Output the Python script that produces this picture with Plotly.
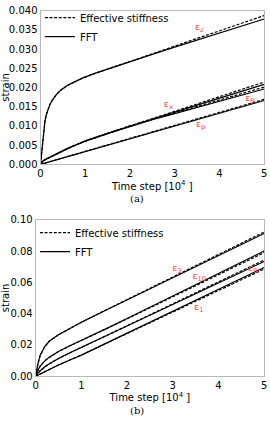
import plotly.graph_objects as go

# ---------------- data: panel (a) ----------------
t_z = [0, 0.01, 0.02, 0.035, 0.05, 0.075, 0.1, 0.13, 0.165, 0.21, 0.27, 0.35, 0.45, 0.6, 0.75, 0.95, 1.2, 1.5, 1.8, 2.2, 2.5, 3, 3.5, 4, 4.5, 5]
ez_fft = [0, 0.0013, 0.0025, 0.0048, 0.007, 0.0093, 0.0113, 0.0129, 0.0143, 0.0156, 0.0168, 0.0181, 0.0193, 0.0205, 0.0214, 0.0225, 0.0236, 0.0248, 0.026, 0.0275, 0.0286, 0.0305, 0.0323, 0.0341, 0.036, 0.0378]
ez_eff = [0, 0.0013, 0.0025, 0.0048, 0.007, 0.0093, 0.0113, 0.0129, 0.0143, 0.0156, 0.0168, 0.0181, 0.0193, 0.0205, 0.0214, 0.0225, 0.0236, 0.0248, 0.026, 0.0275, 0.0287, 0.0308, 0.0327, 0.0347, 0.0367, 0.0387]

t_x = [0, 0.02, 0.05, 0.1, 0.15, 0.2, 0.3, 0.45, 0.6, 0.8, 1, 1.5, 2, 2.5, 3, 3.5, 4, 4.5, 5]
ex_fft = [0, 0.0004, 0.0008, 0.0012, 0.0015, 0.0018, 0.0024, 0.0033, 0.0041, 0.0051, 0.0061, 0.0081, 0.0100, 0.0118, 0.0136, 0.0154, 0.0172, 0.0190, 0.0208]
ex_eff = [0, 0.0004, 0.0008, 0.0012, 0.0015, 0.0018, 0.0024, 0.0033, 0.0041, 0.0051, 0.0061, 0.0081, 0.0101, 0.0119, 0.0138, 0.0157, 0.0176, 0.0195, 0.0214]
eth_fft = [0, 0.0004, 0.0008, 0.0012, 0.0015, 0.0018, 0.0024, 0.0033, 0.0041, 0.0051, 0.0060, 0.0080, 0.0099, 0.0116, 0.0132, 0.0148, 0.0164, 0.0180, 0.0196]
eth_eff = [0, 0.0004, 0.0008, 0.0012, 0.0015, 0.0018, 0.0024, 0.0033, 0.0041, 0.0051, 0.0060, 0.0080, 0.0100, 0.0117, 0.0134, 0.0151, 0.0168, 0.0185, 0.0201]

t_p = [0, 1, 2, 3, 4, 5]
ep_fft = [0, 0.0033, 0.0066, 0.0099, 0.0132, 0.0166]
ep_eff = [0, 0.0034, 0.0068, 0.0101, 0.0135, 0.0169]

labels_a = ["ε<sub>z</sub>", "ε<sub>x</sub>", "ε<sub>θ</sub>", "ε<sub>p</sub>"]
labels_a_t = [3.55, 2.86, 4.68, 3.58]
labels_a_s = [0.0356, 0.0156, 0.0172, 0.0104]

# ---------------- data: panel (b) ----------------
t_b = [0, 0.02, 0.05, 0.1, 0.15, 0.2, 0.3, 0.4, 0.5, 0.75, 1, 1.5, 2, 2.5, 3, 3.5, 4, 4.5, 5]
e3_fft = [0, 0.0035, 0.008, 0.0135, 0.0167, 0.019, 0.0225, 0.0248, 0.0265, 0.0305, 0.0345, 0.0417, 0.0488, 0.0559, 0.0630, 0.0700, 0.0771, 0.0841, 0.0912]
e3_eff = [0, 0.0035, 0.008, 0.0135, 0.0167, 0.019, 0.0225, 0.0248, 0.0265, 0.0305, 0.0345, 0.0418, 0.0490, 0.0562, 0.0634, 0.0706, 0.0778, 0.0850, 0.0922]
e10_fft = [0, 0.002, 0.004, 0.0065, 0.0083, 0.0098, 0.0122, 0.0142, 0.0158, 0.0195, 0.0228, 0.0298, 0.0369, 0.0440, 0.0512, 0.0584, 0.0656, 0.0728, 0.0800]
e10_eff = [0, 0.002, 0.004, 0.0065, 0.0083, 0.0098, 0.0122, 0.0142, 0.0158, 0.0195, 0.0228, 0.0297, 0.0367, 0.0437, 0.0508, 0.0578, 0.0649, 0.0719, 0.0790]
e9_fft = [0, 0.001, 0.002, 0.0035, 0.0048, 0.006, 0.008, 0.0097, 0.0113, 0.015, 0.0183, 0.0252, 0.0321, 0.0390, 0.0459, 0.0527, 0.0596, 0.0664, 0.0733]
e9_eff = [0, 0.001, 0.002, 0.0035, 0.0048, 0.006, 0.008, 0.0097, 0.0113, 0.015, 0.0183, 0.0253, 0.0323, 0.0393, 0.0463, 0.0533, 0.0603, 0.0673, 0.0743]
e1_fft = [0, 0.0003, 0.0007, 0.0016, 0.0023, 0.003, 0.0044, 0.0058, 0.0072, 0.0104, 0.0135, 0.0205, 0.0275, 0.0345, 0.0415, 0.0485, 0.0555, 0.0625, 0.0695]
e1_eff = [0, 0.0003, 0.0007, 0.0016, 0.0023, 0.003, 0.0044, 0.0058, 0.0072, 0.0104, 0.0135, 0.0204, 0.0272, 0.0341, 0.0410, 0.0479, 0.0547, 0.0616, 0.0685]

labels_b = ["ε<sub>3</sub>", "ε<sub>10</sub>", "ε<sub>9</sub>", "ε<sub>1</sub>"]
labels_b_t = [3.09, 3.58, 4.75, 3.57]
labels_b_s = [0.069, 0.0638, 0.0685, 0.0437]

x_ticks = [0, 1, 2, 3, 4, 5]
ya_ticks = [0, 0.005, 0.010, 0.015, 0.020, 0.025, 0.030, 0.035, 0.040]
yb_ticks = [0, 0.02, 0.04, 0.06, 0.08, 0.10]

# ---------------- styles ----------------
LW = 1.2
DASH = "3px,1.6px"
RED = "#ff4040"
FONT = "DejaVu Sans"

fig = go.Figure()

def add_pair(t, eff, fft, xa, ya, show, legend):
    fig.add_trace(go.Scatter(x=t, y=eff, mode="lines", line=dict(color="black", width=LW, dash=DASH),
                             name="Effective stiffness", showlegend=show, legend=legend,
                             xaxis=xa, yaxis=ya))
    fig.add_trace(go.Scatter(x=t, y=fft, mode="lines", line=dict(color="black", width=LW),
                             name="FFT", showlegend=show, legend=legend,
                             xaxis=xa, yaxis=ya))

add_pair(t_z, ez_eff, ez_fft, "x", "y", True, "legend")
add_pair(t_x, ex_eff, ex_fft, "x", "y", False, "legend")
add_pair(t_x, eth_eff, eth_fft, "x", "y", False, "legend")
add_pair(t_p, ep_eff, ep_fft, "x", "y", False, "legend")

add_pair(t_b, e3_eff, e3_fft, "x2", "y2", True, "legend2")
add_pair(t_b, e10_eff, e10_fft, "x2", "y2", False, "legend2")
add_pair(t_b, e9_eff, e9_fft, "x2", "y2", False, "legend2")
add_pair(t_b, e1_eff, e1_fft, "x2", "y2", False, "legend2")

fig.add_trace(go.Scatter(x=labels_a_t, y=labels_a_s, mode="text", text=labels_a,
                         textfont=dict(color=RED, size=9.5, family=FONT), showlegend=False,
                         xaxis="x", yaxis="y", cliponaxis=False))
fig.add_trace(go.Scatter(x=labels_b_t, y=labels_b_s, mode="text", text=labels_b,
                         textfont=dict(color=RED, size=9.5, family=FONT), showlegend=False,
                         xaxis="x2", yaxis="y2", cliponaxis=False))

axis_common = dict(showgrid=False, zeroline=False, showline=True, mirror=True,
                   linecolor="#b8b8b8", linewidth=1, ticks="", ticklabeloverflow="allow",
                   tickfont=dict(size=10, color="black", family=FONT))

fig.update_layout(
    width=270, height=424,
    margin=dict(l=0, r=0, t=0, b=0),
    paper_bgcolor="white", plot_bgcolor="white",
    font=dict(family=FONT, size=10, color="black"),
    xaxis=dict(domain=[0.1322, 0.9889], range=[0, 5], tickvals=x_ticks, ticktext=[str(v) for v in x_ticks],
               anchor="y", title=dict(text="Time step [10<sup>4</sup> ]", font=dict(size=10), standoff=0), **axis_common),
    yaxis=dict(domain=[0.6156, 0.9889], range=[0, 0.040], tickvals=ya_ticks,
               ticktext=["%.3f" % v for v in ya_ticks], anchor="x",
               title=dict(text="strain", font=dict(size=10), standoff=2), **axis_common),
    xaxis2=dict(domain=[0.1137, 0.9889], range=[0, 5], tickvals=x_ticks, ticktext=[str(v) for v in x_ticks],
                anchor="y2", title=dict(text="Time step [10<sup>4</sup> ]", font=dict(size=10), standoff=0), **axis_common),
    yaxis2=dict(domain=[0.1014, 0.4811], range=[0, 0.10], tickvals=yb_ticks,
                ticktext=["%.2f" % v for v in yb_ticks], anchor="x2",
                title=dict(text="strain", font=dict(size=10), standoff=2), **axis_common),
    legend=dict(x=0.13, y=1.007, xanchor="left", yanchor="top", bgcolor="rgba(0,0,0,0)",
                font=dict(size=10, family=FONT), itemwidth=30, tracegroupgap=0),
    legend2=dict(x=0.111, y=0.485, xanchor="left", yanchor="top", bgcolor="rgba(0,0,0,0)",
                 font=dict(size=10, family=FONT), itemwidth=30, tracegroupgap=0),
    annotations=[
        dict(text="(a)", x=0.5, y=(424 - 198) / 424, xref="paper", yref="paper", showarrow=False,
             font=dict(family="DejaVu Serif", size=10)),
        dict(text="(b)", x=0.5, y=0, xref="paper", yref="paper", yanchor="bottom", showarrow=False,
             font=dict(family="DejaVu Serif", size=10)),
    ],
)

fig.write_html("out.html", config={"displayModeBar": False},
               post_script="document.body.style.margin='0';document.body.style.overflow='hidden';")
